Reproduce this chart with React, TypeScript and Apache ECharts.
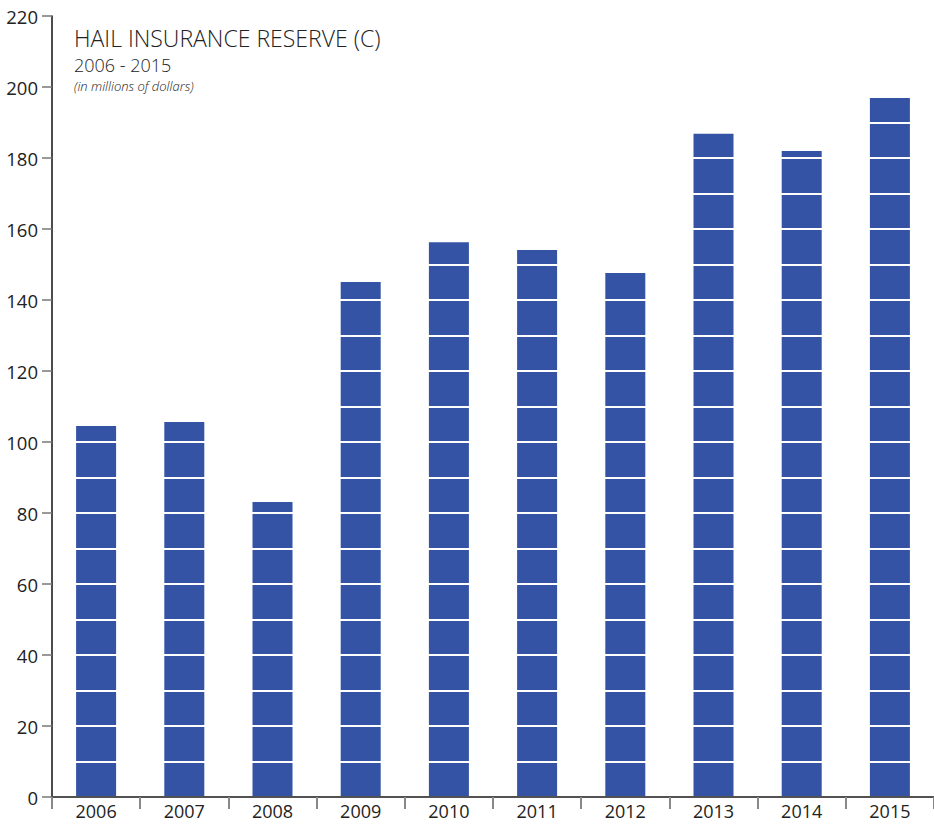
import React, { useEffect, useRef } from "react";
import * as echarts from "echarts";

const categories = ["2006", "2007", "2008", "2009", "2010", "2011", "2012", "2013", "2014", "2015"];
const reserveValues = [104.5, 105.6, 83.1, 145.1, 156.3, 154.1, 147.6, 186.8, 182.0, 196.9];
const yTicks = [0, 20, 40, 60, 80, 100, 120, 140, 160, 180, 200, 220];

const FONT = "'Open Sans', 'Noto Sans', sans-serif";

export default function App() {
  const ref = useRef<HTMLDivElement>(null);
  useEffect(() => {
    if (!ref.current) return;
    const chart = echarts.init(ref.current, undefined, { renderer: "svg" });
    const yMax = yTicks[yTicks.length - 1];
    chart.setOption({
      animation: false,
      backgroundColor: "#ffffff",
      grid: { left: 52, right: 0, top: 16, bottom: 31, containLabel: false },
      graphic: [
        {
          type: "text",
          left: 74,
          top: 26.5,
          z: 50,
          style: { text: "HAIL INSURANCE RESERVE (C)", font: `300 23px ${FONT}`, lineHeight: 22, fill: "#222" },
        },
        {
          type: "text",
          left: 74,
          top: 56,
          z: 50,
          style: { text: "2006 - 2015", font: `300 18px ${FONT}`, lineHeight: 18, fill: "#222" },
        },
        {
          type: "text",
          left: 74,
          top: 79.5,
          z: 50,
          style: { text: "(in millions of dollars)", font: `italic 300 13px ${FONT}`, lineHeight: 13, fill: "#222" },
        },
      ],
      xAxis: [
        {
          type: "category",
          data: categories,
          z: 10,
          axisLine: { show: true, lineStyle: { color: "#111", width: 1.5 } },
          axisTick: { show: true, interval: 0, length: 12, lineStyle: { color: "#888", width: 2 } },
          axisLabel: { interval: 0, margin: 5, fontSize: 18, color: "#222", fontFamily: FONT },
          splitLine: { show: false },
        },
        {
          type: "category",
          data: categories,
          position: "top",
          z: 10,
          axisLine: { show: true, lineStyle: { color: "#555", width: 1.5 } },
          axisTick: { show: false },
          axisLabel: { show: false },
          splitLine: { show: false },
        },
      ],
      yAxis: [
        {
          type: "value",
          min: 0,
          max: yMax,
          interval: 20,
          z: 10,
          axisLine: { show: true, lineStyle: { color: "#111", width: 1.5 } },
          axisTick: { show: true, length: 10, lineStyle: { color: "#777", width: 1.5 } },
          axisLabel: { margin: 14, fontSize: 18.5, color: "#222", fontFamily: FONT },
          splitLine: { show: false },
        },
        {
          type: "value",
          min: 0,
          max: yMax,
          interval: 10,
          z: 5,
          axisLine: { show: false },
          axisTick: { show: false },
          axisLabel: { show: false },
          splitLine: { show: true, lineStyle: { color: "#ffffff", width: 2 } },
        },
      ],
      series: [
        {
          type: "bar",
          data: reserveValues,
          barWidth: 40,
          itemStyle: { color: "#3453a5" },
          z: 2,
        },
      ],
    });
    return () => chart.dispose();
  }, []);
  return <div ref={ref} style={{ width: 934, height: 828, position: "absolute", left: 0, top: 0 }} />;
}
